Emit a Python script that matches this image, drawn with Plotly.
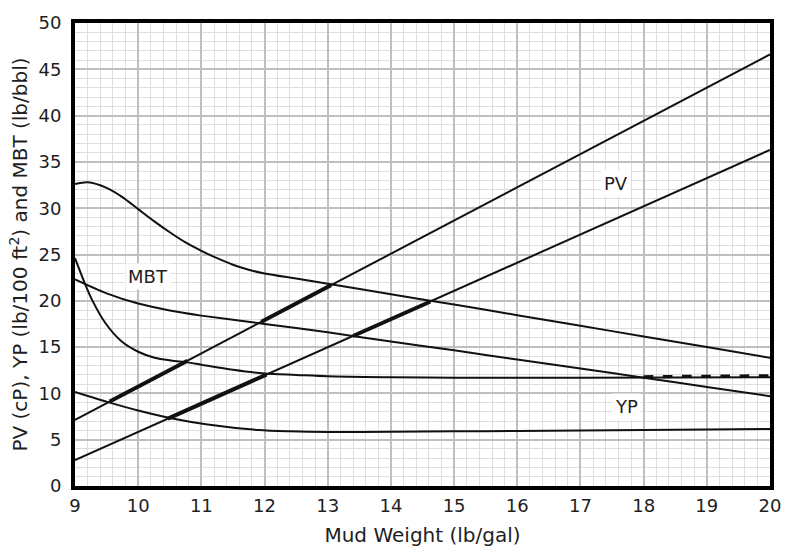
import plotly.graph_objects as go

# ---- data ----
pv_upper_x = [9, 20]
pv_upper_y = [7.15, 46.6]
pv_lower_x = [9, 20]
pv_lower_y = [2.8, 36.3]

mbt_upper_x = [9, 9.2, 9.5, 9.75, 10.0, 10.25, 10.5, 10.75, 11.0, 11.25, 11.5, 11.75, 12.0, 12.5, 13, 14, 15, 16, 17, 18, 19, 20]
mbt_upper_y = [32.6, 32.8, 32.2, 31.2, 29.9, 28.6, 27.4, 26.3, 25.4, 24.6, 23.9, 23.35, 22.95, 22.4, 21.85, 20.7, 19.6, 18.45, 17.3, 16.15, 15.0, 13.85]
mbt_lower_x = [9, 9.5, 10, 10.5, 11, 12, 13, 14, 15, 16, 17, 18, 19, 20]
mbt_lower_y = [22.3, 20.8, 19.7, 18.95, 18.4, 17.5, 16.6, 15.6, 14.65, 13.65, 12.7, 11.7, 10.7, 9.7]

yp_upper_x = [9, 9.16, 9.27, 9.48, 9.74, 10.0, 10.26, 10.52, 10.78, 11.0, 11.5, 12.0, 12.5, 13, 14, 15, 17, 20]
yp_upper_y = [24.6, 21.8, 20.1, 17.6, 15.6, 14.5, 13.85, 13.55, 13.35, 13.1, 12.55, 12.15, 12.0, 11.85, 11.75, 11.7, 11.7, 11.75]
yp_lower_x = [9, 9.55, 10, 10.5, 11.1, 11.9, 12.4, 13, 14, 15, 16, 17, 18, 19, 20]
yp_lower_y = [10.15, 9.0, 8.15, 7.35, 6.65, 6.05, 5.9, 5.82, 5.85, 5.9, 5.95, 6.0, 6.05, 6.1, 6.15]

thick_segments = [
    ([9.55, 10.78], [9.12, 13.53]),
    ([11.95, 13.05], [17.73, 21.67]),
    ([10.47, 12.03], [7.28, 12.03]),
    ([13.4, 14.62], [16.2, 19.9]),
]
yp_right_x = [18.0, 20.0]
yp_right_y = [11.8, 11.9]

labels = ["MBT", "PV", "YP"]
label_x = [10.15, 17.57, 17.73]
label_y = [22.6, 32.65, 8.55]

x_ticks = list(range(9, 21))
y_ticks = list(range(0, 51, 5))

LC = "#111111"
FONT = "DejaVu Sans, Liberation Sans, Arial"
TXT = "#1e1e1e"
fig = go.Figure()

def add_line(x, y, w=2.0, shape="linear", dash="solid"):
    line = dict(color=LC, width=w, shape=shape, dash=dash)
    if shape == "spline":
        line["smoothing"] = 0.8
    fig.add_trace(go.Scatter(x=x, y=y, mode="lines", line=line,
                             showlegend=False, hoverinfo="skip"))

add_line(pv_upper_x, pv_upper_y)
add_line(pv_lower_x, pv_lower_y)
add_line(mbt_upper_x, mbt_upper_y, shape="spline")
add_line(mbt_lower_x, mbt_lower_y, shape="spline")
add_line(yp_upper_x, yp_upper_y, shape="spline")
add_line(yp_lower_x, yp_lower_y, shape="spline")
for sx, sy in thick_segments:
    add_line(sx, sy, w=4.0)
add_line(yp_right_x, yp_right_y, w=3.2, dash="dash")

for t, lx, ly in zip(labels, label_x, label_y):
    fig.add_annotation(x=lx, y=ly, text=t, showarrow=False,
                       font=dict(family=FONT, size=18, color=TXT),
                       bgcolor="white", borderpad=2)

axis_common = dict(showline=True, linewidth=4, linecolor="black", mirror=True,
                   zeroline=False, ticks="",
                   tickfont=dict(family=FONT, size=18, color=TXT))

fig.update_xaxes(range=[9, 20], tickvals=x_ticks, showgrid=True, gridcolor="#bfbfbf", gridwidth=1.5,
                 minor=dict(dtick=0.2, showgrid=True, gridcolor="#dedede", gridwidth=1),
                 ticklabelstandoff=0,
                 title=dict(text="Mud Weight (lb/gal)", standoff=14,
                            font=dict(family=FONT, size=20, color=TXT)),
                 **axis_common)
fig.update_yaxes(range=[0, 50], tickvals=y_ticks, showgrid=True, gridcolor="#bfbfbf", gridwidth=1.5,
                 minor=dict(dtick=1, showgrid=True, gridcolor="#dedede", gridwidth=1),
                 ticklabelstandoff=6,
                 title=dict(text="PV (cP), YP (lb/100 ft<sup>2</sup>) and MBT (lb/bbl)", standoff=6,
                            font=dict(family=FONT, size=20, color=TXT)),
                 **axis_common)

fig.update_layout(width=793, height=556, margin=dict(l=75, r=17, t=12, b=68),
                  paper_bgcolor="white", plot_bgcolor="white")
fig.write_html("out.html")
